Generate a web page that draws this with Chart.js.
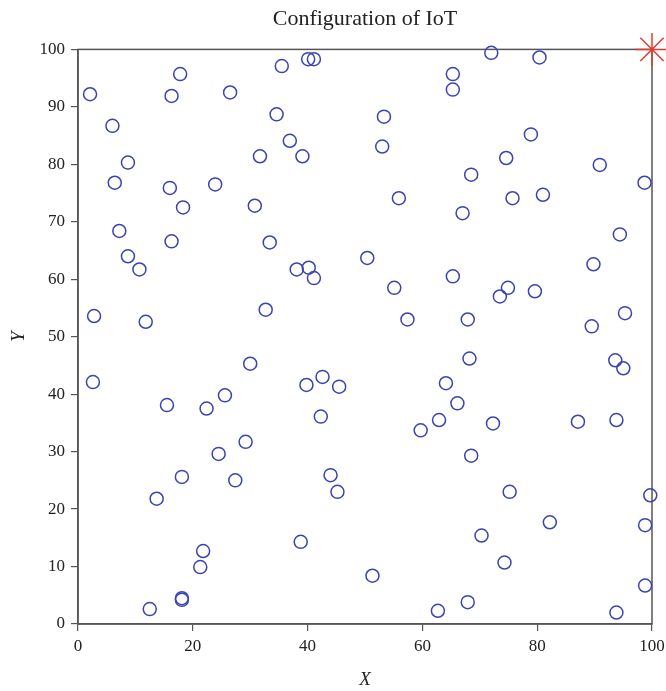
<!DOCTYPE html>
<html>
<head>
<meta charset="utf-8">
<script src="https://cdn.jsdelivr.net/npm/chart.js@4"></script>
<style>
  html, body { margin: 0; padding: 0; background: #fff; }
  #wrap { width: 666px; height: 691px; position: relative; }
</style>
</head>
<body>
<div id="wrap"><canvas id="iotChart"></canvas></div>
<script>
// node positions
const nodeX = [
  2.1, 17.8, 16.3, 26.5, 35.5, 40.1, 41.1, 6.0, 34.6, 36.9,
  31.7, 39.1, 8.7, 6.4, 16.0, 23.9, 18.3, 30.8, 7.2, 16.3,
  33.4, 8.7, 10.7, 38.1, 40.2, 41.1, 2.8, 11.8, 32.7,
  72.0, 80.4, 65.3, 65.3, 53.3, 53.0, 78.9, 74.6, 90.9, 98.7,
  68.5, 55.9, 75.7, 81.0, 67.0, 94.4, 50.4, 65.3, 89.8, 55.1,
  74.9, 73.5, 79.6, 57.4, 67.9, 95.3, 89.5,
  2.6, 30.0, 15.5, 22.4, 25.6, 39.8, 42.6, 45.5, 42.3, 29.2,
  24.5, 13.7, 18.1, 27.4, 44.0, 45.2, 38.8, 21.8, 21.3, 18.1,
  18.1, 12.5,
  68.2, 93.6, 95.0, 64.1, 66.1, 62.9, 59.7, 72.3, 87.1, 93.8,
  68.5, 75.2, 99.7, 82.2, 98.8, 70.3, 74.3, 51.3, 98.8, 67.9,
  62.7, 93.8,
];
const nodeY = [
  92.2, 95.7, 91.9, 92.5, 97.1, 98.3, 98.3, 86.7, 88.7, 84.1,
  81.4, 81.4, 80.3, 76.8, 75.9, 76.5, 72.5, 72.8, 68.4, 66.6,
  66.4, 64.0, 61.7, 61.7, 62.0, 60.2, 53.6, 52.6, 54.7,
  99.4, 98.6, 95.7, 93.0, 88.3, 83.1, 85.2, 81.1, 79.9, 76.8,
  78.2, 74.1, 74.1, 74.7, 71.5, 67.8, 63.7, 60.5, 62.6, 58.5,
  58.5, 57.0, 57.9, 53.0, 53.0, 54.1, 51.8,
  42.1, 45.3, 38.1, 37.5, 39.8, 41.6, 43.0, 41.3, 36.1, 31.7,
  29.6, 21.8, 25.6, 25.0, 25.9, 23.0, 14.3, 12.7, 9.9, 4.5,
  4.2, 2.6,
  46.2, 45.9, 44.5, 41.9, 38.4, 35.5, 33.7, 34.9, 35.2, 35.5,
  29.3, 23.0, 22.4, 17.7, 17.2, 15.4, 10.7, 8.4, 6.7, 3.8,
  2.3, 2.0,
];
const sinkX = [100];
const sinkY = [100];
const xTicks = [0, 20, 40, 60, 80, 100];

const serif = "'Liberation Serif', 'DejaVu Serif', serif";
const axisColor = "#555";

const frame = {
  id: "frame",
  beforeDatasetsDraw(chart) {
    const a = chart.chartArea;
    const ctx = chart.ctx;
    ctx.save();
    ctx.strokeStyle = axisColor;
    ctx.lineWidth = 1.5;
    ctx.strokeRect(a.left, a.top, a.right - a.left, a.bottom - a.top);
    ctx.restore();
  },
};

function axisCommon() {
  return {
    type: "linear",
    min: 0,
    max: 100,
    grid: {
      display: true,
      drawOnChartArea: false,
      drawTicks: true,
      tickLength: 7,
      color: axisColor,
      lineWidth: 1.2,
    },
    border: { display: true, color: axisColor, width: 1.5 },
  };
}

const xAxis = axisCommon();
xAxis.afterBuildTicks = (s) => { s.ticks = xTicks.map((v) => ({ value: v })); };
xAxis.ticks = { color: "#222", font: { family: serif, size: 17 }, padding: 5, maxRotation: 0 };
xAxis.title = { display: true, text: "X", color: "#222", font: { family: serif, size: 19, style: "italic" }, padding: { top: 8, bottom: 0 } };
xAxis.afterFit = (s) => {
  s.height = 67;
  s.paddingLeft = 0;
  s.paddingRight = 0;
};

const yAxis = axisCommon();
yAxis.ticks = { stepSize: 10, color: "#222", font: { family: serif, size: 17 }, padding: 6 };
yAxis.title = { display: true, text: "Y", color: "#222", font: { family: serif, size: 19, style: "italic" }, padding: { top: 8, bottom: 2 } };
yAxis.afterFit = (s) => {
  s.width = 78;
  s.paddingTop = 0;
  s.paddingBottom = 0;
};

new Chart(document.getElementById("iotChart"), {
  type: "scatter",
  data: {
    datasets: [
      {
        label: "Nodes",
        data: nodeX.map((x, i) => ({ x, y: nodeY[i] })),
        pointStyle: "circle",
        pointRadius: 6.5,
        pointBorderWidth: 1.5,
        pointBorderColor: "#3a44b0",
        pointBackgroundColor: "rgba(0,0,0,0)",
        clip: false,
      },
      {
        label: "Sink",
        data: sinkX.map((x, i) => ({ x, y: sinkY[i] })),
        pointStyle: "star",
        pointRadius: 16.5,
        pointBorderWidth: 1.5,
        pointBorderColor: "#e53b2e",
        pointBackgroundColor: "#e53b2e",
        clip: false,
      },
    ],
  },
  options: {
    responsive: true,
    maintainAspectRatio: false,
    animation: false,
    layout: { autoPadding: false, padding: { left: 0, right: 14, top: 0, bottom: 0 } },
    plugins: {
      legend: { display: false },
      tooltip: { enabled: false },
      title: {
        display: true,
        fullSize: false,
        text: "Configuration of IoT",
        color: "#222",
        font: { family: serif, size: 22, weight: "normal" },
        padding: { top: 6, bottom: 17 },
      },
    },
    scales: { x: xAxis, y: yAxis },
  },
  plugins: [frame],
});
</script>
</body>
</html>
